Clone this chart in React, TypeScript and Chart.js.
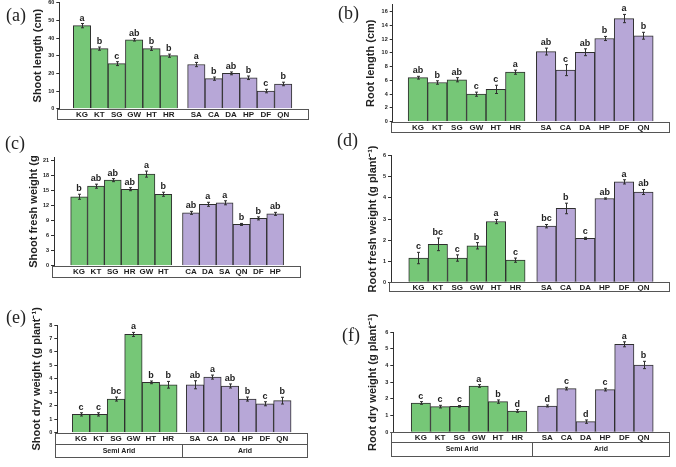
import React, { useEffect, useRef } from "react";
import { Chart, registerables } from "chart.js";
Chart.register(...registerables);

// ---------- categories ----------
const semiAridSites = ["KG", "KT", "SG", "GW", "HT", "HR"];
const aridSites = ["SA", "CA", "DA", "HP", "DF", "QN"];
const semiAridSitesC = ["KG", "KT", "SG", "HR", "GW", "HT"];
const aridSitesC = ["CA", "DA", "SA", "QN", "DF", "HP"];
const groupLabels = ["Semi Arid", "Arid"];

// ---------- (a) shoot length ----------
const shootLenSemi = [47, 34, 25.5, 39, 34, 30];
const shootLenArid = [25, 17, 20, 17.5, 10, 14];
const shootLenErrSemi = [1.2, 0.9, 1.1, 0.7, 1.0, 0.9];
const shootLenErrArid = [1.2, 0.9, 0.8, 1.0, 1.0, 1.0];
const shootLenLetSemi = ["a", "b", "c", "ab", "b", "b"];
const shootLenLetArid = ["a", "b", "ab", "b", "c", "b"];

// ---------- (b) root length ----------
const rootLenSemi = [6.4, 5.7, 6.1, 4.0, 4.7, 7.2];
const rootLenArid = [10.2, 7.5, 10.1, 12.1, 15.0, 12.5];
const rootLenErrSemi = [0.2, 0.25, 0.3, 0.3, 0.6, 0.3];
const rootLenErrArid = [0.5, 0.8, 0.5, 0.3, 0.6, 0.5];
const rootLenLetSemi = ["ab", "b", "ab", "c", "c", "a"];
const rootLenLetArid = ["ab", "c", "ab", "b", "a", "b"];

// ---------- (c) shoot fresh weight ----------
const shootFwSemi = [13.7, 15.8, 17.0, 15.2, 18.2, 14.2];
const shootFwArid = [10.5, 12.2, 12.5, 8.2, 9.4, 10.3];
const shootFwErrSemi = [0.5, 0.4, 0.3, 0.3, 0.6, 0.4];
const shootFwErrArid = [0.3, 0.4, 0.4, 0.2, 0.3, 0.3];
const shootFwLetSemi = ["b", "ab", "ab", "ab", "a", "b"];
const shootFwLetArid = ["ab", "a", "a", "b", "b", "ab"];

// ---------- (d) root fresh weight ----------
const rootFwSemi = [1.15, 1.8, 1.15, 1.73, 2.88, 1.05];
const rootFwArid = [2.66, 3.5, 2.08, 3.97, 4.76, 4.28];
const rootFwErrSemi = [0.27, 0.3, 0.15, 0.15, 0.1, 0.1];
const rootFwErrArid = [0.08, 0.25, 0.05, 0.03, 0.1, 0.12];
const rootFwLetSemi = ["c", "bc", "c", "b", "a", "c"];
const rootFwLetArid = ["bc", "b", "c", "ab", "a", "ab"];

// ---------- (e) shoot dry weight ----------
const shootDwSemi = [1.36, 1.36, 2.5, 7.3, 3.74, 3.56];
const shootDwArid = [3.56, 4.13, 3.47, 2.5, 2.15, 2.38];
const shootDwErrSemi = [0.12, 0.12, 0.15, 0.15, 0.1, 0.25];
const shootDwErrArid = [0.3, 0.15, 0.15, 0.15, 0.15, 0.25];
const shootDwLetSemi = ["c", "c", "bc", "a", "b", "b"];
const shootDwLetArid = ["ab", "a", "ab", "b", "c", "b"];

// ---------- (f) root dry weight ----------
const rootDwSemi = [1.76, 1.54, 1.56, 2.78, 1.84, 1.28];
const rootDwArid = [1.58, 2.62, 0.64, 2.56, 5.28, 4.04];
const rootDwErrSemi = [0.08, 0.08, 0.05, 0.08, 0.1, 0.08];
const rootDwErrArid = [0.06, 0.08, 0.1, 0.08, 0.15, 0.22];
const rootDwLetSemi = ["c", "c", "c", "a", "b", "d"];
const rootDwLetArid = ["d", "c", "d", "c", "a", "b"];

const GREEN = "#76c777";
const PURPLE = "#b7a7d7";
const EDGE = "#2f2f2f";
const TEXT = "#222222";
const SANS = '"Liberation Sans", Arial, sans-serif';
const TITLE_SIZE = 11;

type Layout = {
  axisX: number; titleX: number; top: number; bottom: number; boxR: number;
  barL: number; barR: number; gap: number; catH: number; groupH: number;
};

type Panel = {
  id: string; letter: string; letterX: number; letterY: number; title: string;
  semiLabels: string[]; aridLabels: string[];
  semi: number[]; arid: number[]; semiErr: number[]; aridErr: number[];
  semiLet: string[]; aridLet: string[];
  yMax: number; yStep: number; groups: boolean; layout: Layout;
};

const panels: Panel[] = [
  {
    id: "a", letter: "(a)", letterX: 6, letterY: 6, title: "Shoot length (cm)",
    semiLabels: semiAridSites, aridLabels: aridSites,
    semi: shootLenSemi, arid: shootLenArid, semiErr: shootLenErrSemi, aridErr: shootLenErrArid,
    semiLet: shootLenLetSemi, aridLet: shootLenLetArid, yMax: 60, yStep: 10, groups: false,
    layout: { axisX: 59.3, titleX: 38, top: 2.7, bottom: 108.7, boxR: 308, barL: 63.3, barR: 301.7, gap: 11, catH: 9.5, groupH: 0 },
  },
  {
    id: "b", letter: "(b)", letterX: 338, letterY: 4, title: "Root length (cm)",
    semiLabels: semiAridSites, aridLabels: aridSites,
    semi: rootLenSemi, arid: rootLenArid, semiErr: rootLenErrSemi, aridErr: rootLenErrArid,
    semiLet: rootLenLetSemi, aridLet: rootLenLetArid, yMax: 17, yStep: 2, groups: false,
    layout: { axisX: 392.7, titleX: 371, top: 4.8, bottom: 121.7, boxR: 669, barL: 397, barR: 664.3, gap: 12.4, catH: 10.3, groupH: 0 },
  },
  {
    id: "c", letter: "(c)", letterX: 5, letterY: 134, title: "Shoot fresh weight (g",
    semiLabels: semiAridSitesC, aridLabels: aridSitesC,
    semi: shootFwSemi, arid: shootFwArid, semiErr: shootFwErrSemi, aridErr: shootFwErrArid,
    semiLet: shootFwLetSemi, aridLet: shootFwLetArid, yMax: 21.5, yStep: 3, groups: false,
    layout: { axisX: 54, titleX: 34, top: 157.5, bottom: 265.7, boxR: 300, barL: 61, barR: 293.3, gap: 11.7, catH: 11, groupH: 0 },
  },
  {
    id: "d", letter: "(d)", letterX: 337, letterY: 131, title: "Root fresh weight (g plant\u207B\u00B9)",
    semiLabels: semiAridSites, aridLabels: aridSites,
    semi: rootFwSemi, arid: rootFwArid, semiErr: rootFwErrSemi, aridErr: rootFwErrArid,
    semiLet: rootFwLetSemi, aridLet: rootFwLetArid, yMax: 6, yStep: 1, groups: false,
    layout: { axisX: 391, titleX: 373, top: 155.7, bottom: 282.3, boxR: 669.3, barL: 397.7, barR: 664.3, gap: 12.7, catH: 9.4, groupH: 0 },
  },
  {
    id: "e", letter: "(e)", letterX: 6, letterY: 308, title: "Shoot dry weight (g plant\u207B\u00B9)",
    semiLabels: semiAridSites, aridLabels: aridSites,
    semi: shootDwSemi, arid: shootDwArid, semiErr: shootDwErrSemi, aridErr: shootDwErrArid,
    semiLet: shootDwLetSemi, aridLet: shootDwLetArid, yMax: 8, yStep: 1, groups: true,
    layout: { axisX: 57.3, titleX: 37, top: 325, bottom: 432.7, boxR: 306.7, barL: 62.3, barR: 301, gap: 10, catH: 11.3, groupH: 12.7 },
  },
  {
    id: "f", letter: "(f)", letterX: 342, letterY: 326, title: "Root dry weight (g plant\u207B\u00B9)",
    semiLabels: semiAridSites, aridLabels: aridSites,
    semi: rootDwSemi, arid: rootDwArid, semiErr: rootDwErrSemi, aridErr: rootDwErrArid,
    semiLet: rootDwLetSemi, aridLet: rootDwLetArid, yMax: 6, yStep: 1, groups: true,
    layout: { axisX: 393.3, titleX: 373, top: 332.3, bottom: 432.3, boxR: 669.3, barL: 400.3, barR: 664.3, gap: 11.7, catH: 10.4, groupH: 14 },
  },
];

const W = 676;
const H = 467;

const extrasPlugin = {
  id: "extras",
  afterDatasetsDraw(chart: any, _args: any, opts: any) {
    const ctx = chart.ctx;
    const yScale = chart.scales.y;
    ctx.save();
    chart.data.datasets.forEach((ds: any, di: number) => {
      const meta = chart.getDatasetMeta(di);
      const errs = opts.errs[di];
      const lets = opts.lets[di];
      meta.data.forEach((bar: any, i: number) => {
        const v = ds.data[i].y;
        const e = errs[i];
        const x = Math.round(bar.x) + 0.5;
        const yt = yScale.getPixelForValue(v + e);
        const yb = yScale.getPixelForValue(v - e);
        ctx.strokeStyle = EDGE;
        ctx.lineWidth = 1;
        ctx.beginPath();
        ctx.moveTo(x, yt);
        ctx.lineTo(x, yb);
        ctx.moveTo(x - 1.5, yt);
        ctx.lineTo(x + 1.5, yt);
        ctx.moveTo(x - 1.5, yb);
        ctx.lineTo(x + 1.5, yb);
        ctx.stroke();
        ctx.fillStyle = TEXT;
        ctx.font = `bold 9px ${SANS}`;
        ctx.textAlign = "center";
        ctx.textBaseline = "bottom";
        ctx.fillText(lets[i], bar.x, yt - 1);
      });
    });
    ctx.restore();
  },
  afterDraw(chart: any, _args: any, opts: any) {
    const ctx = chart.ctx;
    const b = Math.round(chart.chartArea.bottom) + 0.5;
    const l = Math.round(opts.boxL) + 0.5;
    const r = Math.round(opts.boxR) + 0.5;
    ctx.save();
    ctx.strokeStyle = "#555555";
    ctx.lineWidth = 1;
    ctx.strokeRect(l, b, r - l, Math.round(opts.catH));
    if (opts.groups) {
      const gt = b + Math.round(opts.catH);
      const gh = Math.round(opts.groupH);
      ctx.strokeRect(l, gt, r - l, gh);
      const dx = Math.round(chart.scales.x.getPixelForValue(opts.divider)) + 0.5;
      ctx.beginPath();
      ctx.moveTo(dx, gt);
      ctx.lineTo(dx, gt + gh);
      ctx.stroke();
      ctx.fillStyle = TEXT;
      ctx.font = `bold 7px ${SANS}`;
      ctx.textAlign = "center";
      ctx.textBaseline = "middle";
      ctx.fillText(opts.groupLabels[0], (l + dx) / 2, gt + gh / 2);
      ctx.fillText(opts.groupLabels[1], (dx + r) / 2, gt + gh / 2);
    }
    ctx.restore();
  },
};

function buildConfig(p: Panel): any {
  const L = p.layout;
  const u = (L.barR - L.barL - L.gap) / 12;
  const gapU = L.gap / u;
  const semiX = p.semi.map((_, i) => i);
  const aridX = p.arid.map((_, j) => 6 + gapU + j);
  const xs = [...semiX, ...aridX];
  const labels = [...p.semiLabels, ...p.aridLabels];
  const xMin = -0.5 - (L.barL - L.axisX) / u;
  const xMax = 11.5 + gapU + (L.boxR - L.barR) / u;
  const YW = L.axisX - L.titleX + (TITLE_SIZE * 1.2) / 2;
  const XH = L.catH + (p.groups ? L.groupH : 0);
  return {
    type: "bar",
    data: {
      datasets: [
        {
          data: p.semi.map((v, i) => ({ x: semiX[i], y: v })),
          backgroundColor: GREEN, borderColor: EDGE, borderWidth: 1,
          barPercentage: 1, categoryPercentage: 1, grouped: false,
        },
        {
          data: p.arid.map((v, i) => ({ x: aridX[i], y: v })),
          backgroundColor: PURPLE, borderColor: EDGE, borderWidth: 1,
          barPercentage: 1, categoryPercentage: 1, grouped: false,
        },
      ],
    },
    options: {
      responsive: false,
      animation: false,
      events: [],
      layout: {
        padding: {
          left: L.axisX - YW,
          right: W - L.boxR,
          top: L.top,
          bottom: H - L.bottom - XH,
        },
      },
      plugins: {
        legend: { display: false },
        tooltip: { enabled: false },
        title: { display: false },
        extras: {
          errs: [p.semiErr, p.aridErr],
          lets: [p.semiLet, p.aridLet],
          boxL: L.axisX - 2,
          boxR: L.boxR,
          catH: L.catH,
          groupH: L.groupH,
          groups: p.groups,
          divider: 5.5 + gapU / 2,
          groupLabels,
        },
      },
      scales: {
        x: {
          type: "linear",
          min: xMin,
          max: xMax,
          grid: { display: false, drawTicks: false },
          border: { display: false },
          afterBuildTicks: (s: any) => {
            s.ticks = xs.map((v) => ({ value: v }));
          },
          afterFit: (s: any) => {
            s.height = XH;
            s.paddingLeft = 0;
            s.paddingRight = 0;
          },
          ticks: {
            autoSkip: false,
            maxRotation: 0,
            minRotation: 0,
            padding: 1,
            color: TEXT,
            font: { family: SANS, size: 8, weight: "bold" },
            callback: (_v: any, i: number) => labels[i],
          },
        },
        y: {
          min: 0,
          max: p.yMax,
          ticks: {
            stepSize: p.yStep,
            includeBounds: false,
            padding: 2,
            color: TEXT,
            font: { family: SANS, size: 5.5, weight: "bold" },
          },
          grid: { drawOnChartArea: false, drawTicks: true, tickLength: 3, color: EDGE },
          border: { display: true, color: EDGE, width: 1 },
          title: {
            display: true,
            text: p.title,
            color: TEXT,
            padding: 0,
            font: { family: SANS, size: TITLE_SIZE, weight: "bold" },
          },
          afterFit: (s: any) => {
            s.width = YW;
            s.paddingTop = 0;
            s.paddingBottom = 0;
          },
        },
      },
    },
    plugins: [extrasPlugin],
  };
}

function PanelChart({ panel }: { panel: Panel }) {
  const ref = useRef<HTMLCanvasElement | null>(null);
  useEffect(() => {
    if (!ref.current) return;
    const chart = new Chart(ref.current, buildConfig(panel));
    return () => chart.destroy();
  }, [panel]);
  return (
    <canvas
      ref={ref}
      width={W}
      height={H}
      style={{ position: "absolute", left: 0, top: 0, width: W, height: H }}
    />
  );
}

export default function App() {
  return (
    <div
      style={{
        position: "fixed", left: 0, top: 0, width: W, height: H,
        background: "#ffffff", overflow: "hidden",
      }}
    >
      {panels.map((p) => (
        <PanelChart key={p.id} panel={p} />
      ))}
      {panels.map((p) => (
        <span
          key={"l" + p.id}
          style={{
            position: "absolute", left: p.letterX, top: p.letterY,
            fontFamily: '"Liberation Serif", "Times New Roman", serif',
            fontSize: 18, lineHeight: "18px", color: "#222",
          }}
        >
          {p.letter}
        </span>
      ))}
    </div>
  );
}
